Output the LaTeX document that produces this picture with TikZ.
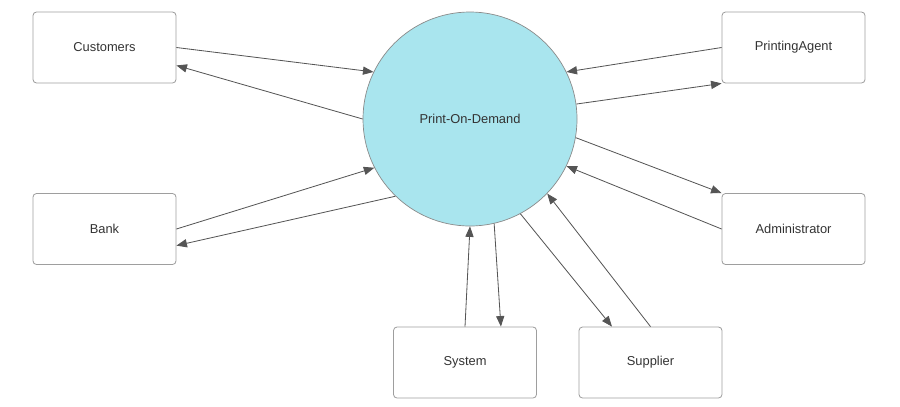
\documentclass[tikz,border=0pt]{standalone}
\usepackage{fontspec}
\setmainfont{Liberation Sans}
\usetikzlibrary{arrows.meta}
\definecolor{podfill}{HTML}{A9E5EE}
\definecolor{podline}{HTML}{8A8A8A}
\definecolor{boxline}{HTML}{9E9E9E}
\definecolor{flowline}{HTML}{555555}
\definecolor{labeltext}{HTML}{333333}
\begin{document}
\begin{tikzpicture}[x=0.03cm, y=-0.03cm,
		entity/.style={draw=boxline, line width=0.7pt, rounded corners=3pt, minimum width=4.29cm, minimum height=2.13cm, inner sep=0pt, text=labeltext, font=\fontsize{11}{13}\selectfont},
		process/.style={circle, draw=podline, line width=0.6pt, fill=podfill, minimum size=6.42cm, inner sep=0pt, text=labeltext, font=\fontsize{11}{13}\selectfont},
		flow/.style={draw=flowline, line width=0.7pt, -{Triangle[length=9pt, width=7pt]}}]
		\useasboundingbox ( 0, 0 ) rectangle ( 900, 406 );

		% process
		\node [process] (pod) at ( 470, 119 ) {Print-On-Demand};

		% entities
		\node [entity] (cust) at ( 104.5, 47.5 ) {Customers};
		\node [entity] (agent) at ( 793.5, 47.5 ) {PrintingAgent};
		\node [entity] (bank) at ( 104.5, 229 ) {Bank};
		\node [entity] (admin) at ( 793.5, 229 ) {Administrator};
		\node [entity] (sys) at ( 465, 362.5 ) {System};
		\node [entity] (supp) at ( 650.5, 362.5 ) {Supplier};

		% flows left
		\draw [flow] (cust.east) -- (pod.154);
		\draw [flow] (pod.180) -- (cust.-14);
		\draw [flow] (bank.east) -- (pod.207);
		\draw [flow] (pod.226) -- (bank.-13);

		% flows right
		\draw [flow] (agent.west) -- (pod.26);
		\draw [flow] (pod.8) -- (agent.south west);
		\draw [flow] (pod.-10) -- (admin.north west);
		\draw [flow] (admin.west) -- (pod.-26);

		% flows bottom
		\draw [flow] (sys.north) -- (pod.270);
		\draw [flow] (pod.283) -- (sys.45);
		\draw [flow] (pod.298) -- (supp.137);
		\draw [flow] (supp.north) -- (pod.316);
	\end{tikzpicture}
\end{document}
